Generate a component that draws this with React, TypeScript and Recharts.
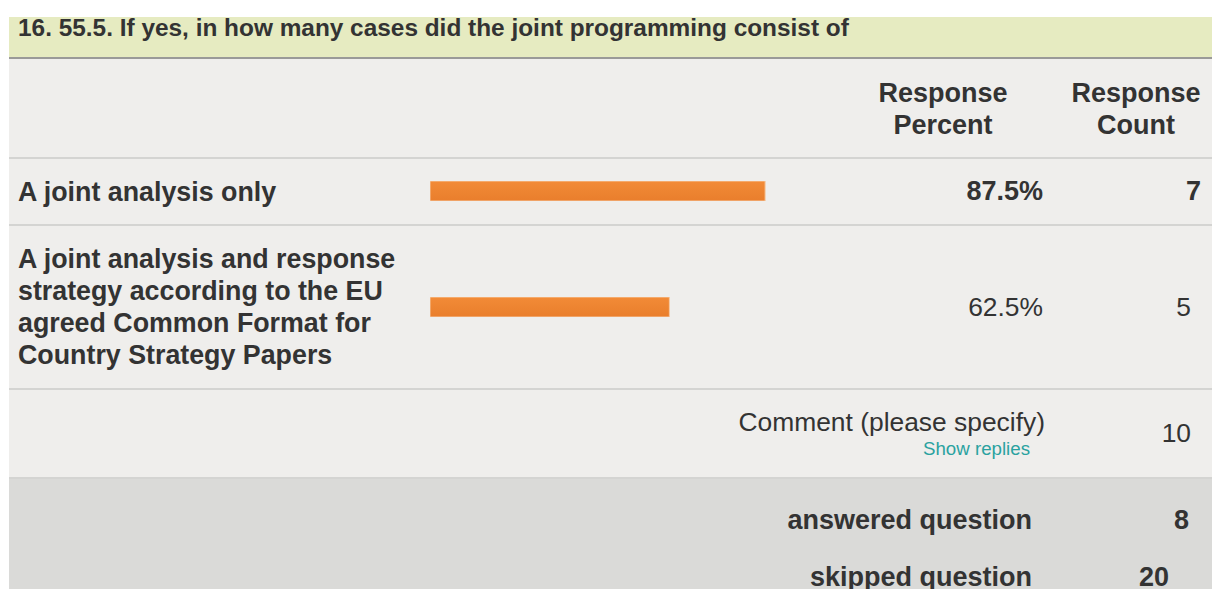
import React from "react";
import { BarChart, Bar, XAxis, YAxis } from "recharts";

const questionTitle =
  "16. 55.5. If yes, in how many cases did the joint programming consist of";
const answerLabels = [
  "A joint analysis only",
  "A joint analysis and response strategy according to the EU agreed Common Format for Country Strategy Papers",
];
const responsePercent = [87.5, 62.5];
const responseCount = [7, 5];
const percentTicks = [0, 100];
const commentCount = 10;
const answeredCount = 8;
const skippedCount = 20;

const FONT = '"Liberation Sans", Arial, Helvetica, sans-serif';
const TEXT = "#333333";
const ROW_BG = "#efeeec";
const LINE = "#d4d4d2";
const BOLD_SIZE = 27;
const REG_SIZE = 26.4;

// vertical layout of the answer rows (top of row, height, bar top)
const rows = [
  { top: 159, height: 65, barTop: 181, bold: true },
  { top: 226, height: 162, barTop: 297, bold: false },
];

function PercentBar({ name, value }: { name: string; value: number }) {
  const data = [{ name, value }];
  return (
    <BarChart
      width={383}
      height={20}
      data={data}
      layout="vertical"
      margin={{ top: 0, right: 0, bottom: 0, left: 0 }}
      barCategoryGap={0}
    >
      <defs>
        <linearGradient id="barFill" x1="0" y1="0" x2="0" y2="1">
          <stop offset="0%" stopColor="#f28b37" />
          <stop offset="100%" stopColor="#e97e2c" />
        </linearGradient>
      </defs>
      <XAxis type="number" domain={[percentTicks[0], percentTicks[1]]} hide />
      <YAxis type="category" dataKey="name" hide />
      <Bar
        dataKey="value"
        fill="url(#barFill)"
        stroke="#f6c9a2"
        strokeWidth={1}
        isAnimationActive={false}
      />
    </BarChart>
  );
}

const abs = (s: React.CSSProperties): React.CSSProperties => ({
  position: "absolute",
  ...s,
});

export default function App() {
  return (
    <div
      style={{
        position: "fixed",
        top: 0,
        left: 0,
        width: 1212,
        height: 589,
        overflow: "hidden",
        background: "#ffffff",
        fontFamily: FONT,
        color: TEXT,
      }}
    >
      {/* title bar */}
      <div style={abs({ left: 9, top: 17, width: 1203, height: 41, background: "#e6ebc1" })} />
      <div
        style={abs({
          left: 18,
          top: 14,
          fontSize: 24.4,
          lineHeight: "28px",
          fontWeight: "bold",
          whiteSpace: "nowrap",
        })}
      >
        {questionTitle}
      </div>
      <div style={abs({ left: 9, top: 57, width: 1203, height: 2, background: "#9a9a98" })} />

      {/* header */}
      <div style={abs({ left: 9, top: 59, width: 1203, height: 98, background: ROW_BG })} />
      <div
        style={abs({
          left: 853,
          top: 77,
          width: 180,
          fontSize: BOLD_SIZE,
          lineHeight: "32px",
          fontWeight: "bold",
          textAlign: "center",
        })}
      >
        Response
        <br />
        Percent
      </div>
      <div
        style={abs({
          left: 1046,
          top: 77,
          width: 180,
          fontSize: BOLD_SIZE,
          lineHeight: "32px",
          fontWeight: "bold",
          textAlign: "center",
        })}
      >
        Response
        <br />
        Count
      </div>
      <div style={abs({ left: 9, top: 157, width: 1203, height: 2, background: LINE })} />

      {/* answer rows */}
      {answerLabels.map((label, i) => {
        const r = rows[i];
        const weight = r.bold ? "bold" : "normal";
        const size = r.bold ? BOLD_SIZE : REG_SIZE;
        const lines = i === 0 ? 1 : 4;
        const labelTop = r.top + r.height / 2 - (lines * 32) / 2;
        const mid = r.barTop + 10 - 16;
        return (
          <React.Fragment key={label}>
            <div style={abs({ left: 9, top: r.top, width: 1203, height: r.height, background: ROW_BG })} />
            <div
              style={abs({
                left: 18,
                top: labelTop,
                width: 400,
                fontSize: 26.8,
                lineHeight: "32px",
                fontWeight: "bold",
              })}
            >
              {label}
            </div>
            <div style={abs({ left: 430, top: r.barTop })}>
              <PercentBar name={label} value={responsePercent[i]} />
            </div>
            <div
              style={abs({
                left: 843,
                top: mid,
                width: 200,
                fontSize: size,
                lineHeight: "32px",
                fontWeight: weight,
                textAlign: "right",
              })}
            >
              {responsePercent[i].toFixed(1)}%
            </div>
            <div
              style={abs({
                left: 1000,
                top: mid,
                width: r.bold ? 201 : 191,
                fontSize: size,
                lineHeight: "32px",
                fontWeight: weight,
                textAlign: "right",
              })}
            >
              {responseCount[i]}
            </div>
            <div
              style={abs({ left: 9, top: r.top + r.height, width: 1203, height: 2, background: LINE })}
            />
          </React.Fragment>
        );
      })}

      {/* comment row */}
      <div style={abs({ left: 9, top: 390, width: 1203, height: 87, background: ROW_BG })} />
      <div
        style={abs({
          left: 645,
          top: 406,
          width: 400,
          fontSize: REG_SIZE,
          lineHeight: "32px",
          textAlign: "right",
          whiteSpace: "nowrap",
        })}
      >
        Comment (please specify)
      </div>
      <div
        style={abs({
          left: 830,
          top: 438,
          width: 200,
          fontSize: 18.7,
          lineHeight: "22px",
          textAlign: "right",
          color: "#2aa2a0",
        })}
      >
        Show replies
      </div>
      <div
        style={abs({
          left: 1000,
          top: 417,
          width: 191,
          fontSize: REG_SIZE,
          lineHeight: "32px",
          textAlign: "right",
        })}
      >
        {commentCount}
      </div>
      <div style={abs({ left: 9, top: 477, width: 1203, height: 2, background: LINE })} />

      {/* footer */}
      <div style={abs({ left: 9, top: 479, width: 1203, height: 110, background: "#dadad8" })} />
      <div
        style={abs({
          left: 632,
          top: 504,
          width: 400,
          fontSize: BOLD_SIZE,
          lineHeight: "32px",
          fontWeight: "bold",
          textAlign: "right",
        })}
      >
        answered question
      </div>
      <div
        style={abs({
          left: 1000,
          top: 504,
          width: 189,
          fontSize: BOLD_SIZE,
          lineHeight: "32px",
          fontWeight: "bold",
          textAlign: "right",
        })}
      >
        {answeredCount}
      </div>
      <div
        style={abs({
          left: 632,
          top: 561,
          width: 400,
          fontSize: BOLD_SIZE,
          lineHeight: "32px",
          fontWeight: "bold",
          textAlign: "right",
        })}
      >
        skipped question
      </div>
      <div
        style={abs({
          left: 1000,
          top: 561,
          width: 169,
          fontSize: BOLD_SIZE,
          lineHeight: "32px",
          fontWeight: "bold",
          textAlign: "right",
        })}
      >
        {skippedCount}
      </div>
    </div>
  );
}
